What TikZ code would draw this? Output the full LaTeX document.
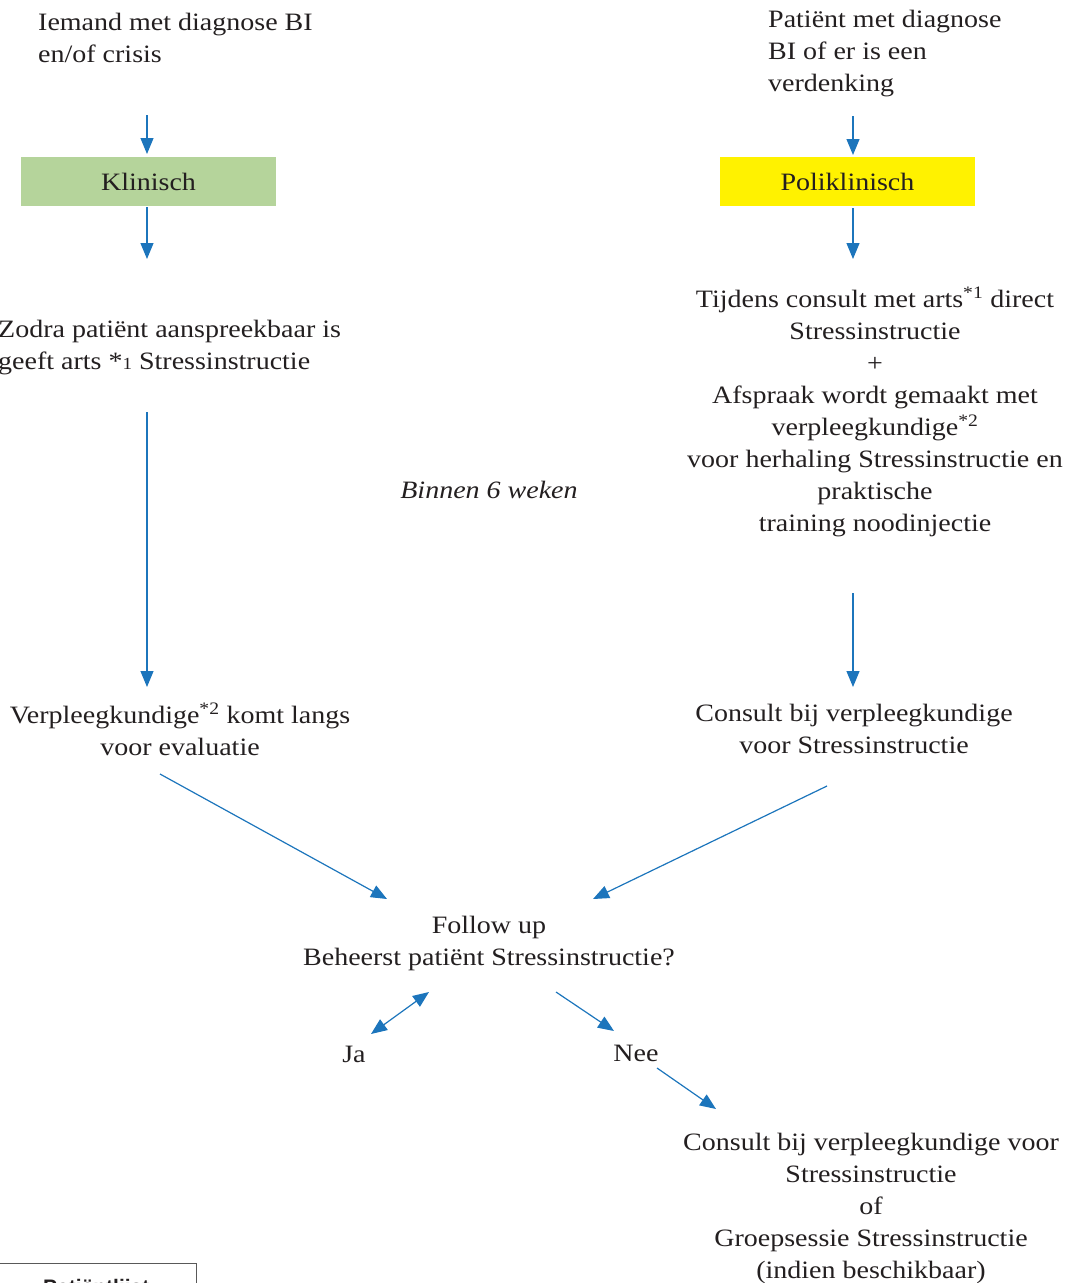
\documentclass[tikz,border=0pt]{standalone}
\usepackage{fontspec}
\setmainfont{Liberation Serif}[FakeStretch=1.12]
\newfontfamily\boxsans{Liberation Sans}
\usetikzlibrary{arrows.meta}
\definecolor{txt}{HTML}{231F20}
\definecolor{arrowblue}{HTML}{1C75BC}
\definecolor{kgreen}{HTML}{B5D49B}
\definecolor{pyellow}{HTML}{FFF200}
\begin{document}
\begin{tikzpicture}[x=1pt,y=-1pt,
  every node/.style={text=txt, inner sep=0pt, font=\fontsize{25}{32}\selectfont},
  flow/.style={draw=arrowblue, line width=1.2pt, -{Triangle[length=16pt,width=13pt]}},
  flowboth/.style={draw=arrowblue, line width=1.2pt, {Triangle[length=16pt,width=13pt]}-{Triangle[length=16pt,width=13pt]}},
  catbox/.style={minimum width=255pt, minimum height=49pt}]
\useasboundingbox (0,0) rectangle (1070,1283);

% texts
\node[anchor=west, align=left] (startL) at (38,38) {Iemand met diagnose BI\\en/of crisis};
\node[anchor=west, align=left] (startR) at (768,54) {Patiënt met diagnose\\BI of er is een\\verdenking};
\node[catbox, fill=kgreen] (klin) at (148.5,181.5) {Klinisch};
\node[catbox, fill=pyellow] (poli) at (847.5,181.5) {Poliklinisch};
\node[anchor=west, align=left] (zodra) at (-2,348) {Zodra patiënt aanspreekbaar is\\geeft arts *{\fontsize{17}{17}\selectfont 1} Stressinstructie};
\node[align=center] (tijdens) at (875,412) {Tijdens consult met arts\textsuperscript{*1} direct\\Stressinstructie\\+\\Afspraak wordt gemaakt met\\verpleegkundige\textsuperscript{*2}\\voor herhaling Stressinstructie en\\praktische\\training noodinjectie};
\node[font=\fontsize{25}{32}\selectfont\itshape] (binnen) at (489,490) {Binnen 6 weken};
\node[align=center] (verpl) at (180,729) {Verpleegkundige\textsuperscript{*2} komt langs\\voor evaluatie};
\node[align=center] (consult) at (854,729) {Consult bij verpleegkundige\\voor Stressinstructie};
\node[align=center] (follow) at (489,943) {Follow up\\Beheerst patiënt Stressinstructie?};
\node (ja) at (354,1054) {Ja};
\node (nee) at (636,1053) {Nee};
\node[align=center] (groep) at (871,1208) {Consult bij verpleegkundige voor\\Stressinstructie\\of\\Groepsessie Stressinstructie\\(indien beschikbaar)};

% bottom-left box (cut off)
\draw[draw=gray!70!black, line width=1pt] (-2,1263.5) -- (196,1263.5) -- (196,1300);
\node[anchor=north west, font=\boxsans\bfseries\fontsize{21}{24}\selectfont] (lijst) at (43,1279) {Patiëntlijst};

% arrow end points
\coordinate (a1s) at (147,115); \coordinate (a1e) at (147,154);
\coordinate (a2s) at (147,207); \coordinate (a2e) at (147,259);
\coordinate (a3s) at (147,412); \coordinate (a3e) at (147,687);
\coordinate (b1s) at (853,116); \coordinate (b1e) at (853,155);
\coordinate (b2s) at (853,208); \coordinate (b2e) at (853,259);
\coordinate (b3s) at (853,593); \coordinate (b3e) at (853,687);
\coordinate (c1s) at (160,774); \coordinate (c1e) at (387,899);
\coordinate (c2s) at (827,786); \coordinate (c2e) at (593,899);
\coordinate (d1s) at (371,1034); \coordinate (d1e) at (429,992);
\coordinate (d2s) at (556,992); \coordinate (d2e) at (614,1031);
\coordinate (d3s) at (657,1068); \coordinate (d3e) at (716,1109);

\draw[flow] (a1s) -- (a1e);
\draw[flow] (a2s) -- (a2e);
\draw[flow] (a3s) -- (a3e);
\draw[flow] (b1s) -- (b1e);
\draw[flow] (b2s) -- (b2e);
\draw[flow] (b3s) -- (b3e);
\draw[flow] (c1s) -- (c1e);
\draw[flow] (c2s) -- (c2e);
\draw[flowboth] (d1s) -- (d1e);
\draw[flow] (d2s) -- (d2e);
\draw[flow] (d3s) -- (d3e);
\end{tikzpicture}
\end{document}
